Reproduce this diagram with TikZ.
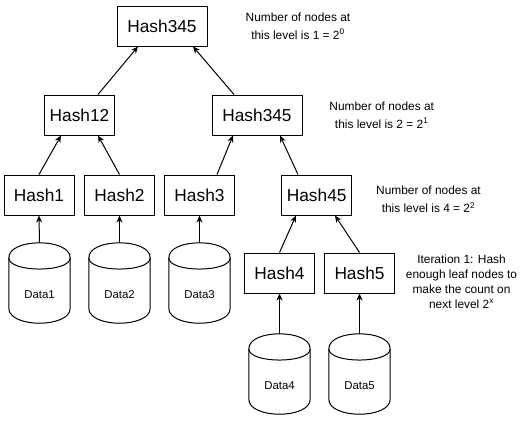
\documentclass[tikz,border=0pt]{standalone}
\usepackage{fontspec}
\setmainfont{Liberation Sans}
\usetikzlibrary{arrows.meta,calc}
\tikzset{
  hashbox/.style={draw, line width=1pt, fill=white, minimum width=70pt, minimum height=40pt, inner sep=0pt, font=\fontsize{17.3}{20}\selectfont},
  widebox/.style={hashbox, minimum width=90pt},
  cylbox/.style={minimum width=61pt, minimum height=80pt, inner sep=0pt},
  cylline/.style={draw, line width=1pt, fill=white},
  datalabel/.style={inner sep=0pt, font=\fontsize{11.4}{13}\selectfont},
  note/.style={inner sep=0pt, align=center, anchor=base, font=\fontsize{11.9}{18}\selectfont},
  note2/.style={inner sep=0pt, align=center, anchor=base, font=\fontsize{11.9}{15}\selectfont},
  arr/.style={line width=1pt, -{Stealth[length=7pt,width=6pt]}}
}
\newcommand\dbcyl[4]{%
  \node[cylbox] (#1) at (#2,#3) {};
  \path[cylline] ([yshift=-15pt]#1.north west) .. controls ([yshift=5pt]#1.north west) and ([yshift=5pt]#1.north east) .. ([yshift=-15pt]#1.north east)
    -- ([yshift=15pt]#1.south east) .. controls ([yshift=-5pt]#1.south east) and ([yshift=-5pt]#1.south west) .. ([yshift=15pt]#1.south west) -- cycle;
  \draw[line width=1pt] ([yshift=-15pt]#1.north west) .. controls ([yshift=-30pt]#1.north west) and ([yshift=-30pt]#1.north east) .. ([yshift=-15pt]#1.north east);
  \node[datalabel] (#1l) at ([yshift=-52pt]#1.north) {#4};
}
\begin{document}
\begin{tikzpicture}[x=1pt, y=-1pt]
\useasboundingbox (0,0) rectangle (522,424);
\node[widebox] (top) at (162,26) {Hash345};
\node[hashbox] (h12) at (79.5,115) {Hash12};
\node[widebox] (h345) at (257,115) {Hash345};
\node[hashbox] (h1) at (39,195) {Hash1};
\node[hashbox] (h2) at (119.5,195) {Hash2};
\node[hashbox] (h3) at (199.5,195) {Hash3};
\node[hashbox] (h45) at (316.7,195) {Hash45};
\node[hashbox] (h4) at (279.5,273) {Hash4};
\node[hashbox] (h5) at (359.5,273) {Hash5};
\dbcyl{d1}{39.5}{283}{Data1}
\dbcyl{d2}{119.5}{283}{Data2}
\dbcyl{d3}{199.5}{283}{Data3}
\dbcyl{d4}{279.5}{374}{Data4}
\dbcyl{d5}{359.5}{374}{Data5}

\draw[arr] ([xshift=18.5pt]h12.north) -- ([xshift=-24pt]top.south);
\draw[arr] ([xshift=-23pt]h345.north) -- ([xshift=31pt]top.south);
\draw[arr] (h1.north) -- ([xshift=-18.5pt]h12.south);
\draw[arr] (h2.north) -- ([xshift=18.5pt]h12.south);
\draw[arr] ([xshift=17.5pt]h3.north) -- ([xshift=-24pt]h345.south);
\draw[arr] ([xshift=-18.7pt]h45.north) -- ([xshift=23pt]h345.south);
\draw[arr] (h4.north) -- ([xshift=-20.7pt]h45.south);
\draw[arr] (h5.north) -- ([xshift=18.3pt]h45.south);
\draw[arr] (d1.north) -- (h1.south);
\draw[arr] (d2.north) -- (h2.south);
\draw[arr] (d3.north) -- (h3.south);
\draw[arr] (d4.north) -- (h4.south);
\draw[arr] (d5.north) -- (h5.south);

\node[note] (t0) at (298,39) {Number of nodes at\\this level is 1 = 2\textsuperscript{0}};
\node[note] (t1) at (381.7,128) {Number of nodes at\\this level is 2 = 2\textsuperscript{1}};
\node[note] (t2) at (428.5,212.5) {Number of nodes at\\this level is 4 = 2\textsuperscript{2}};
\node[note2] (t3) at (461.5,308) {Iteration 1: Hash\\enough leaf nodes to\\make the count on\\next level 2\textsuperscript{x}};
\end{tikzpicture}
\end{document}
